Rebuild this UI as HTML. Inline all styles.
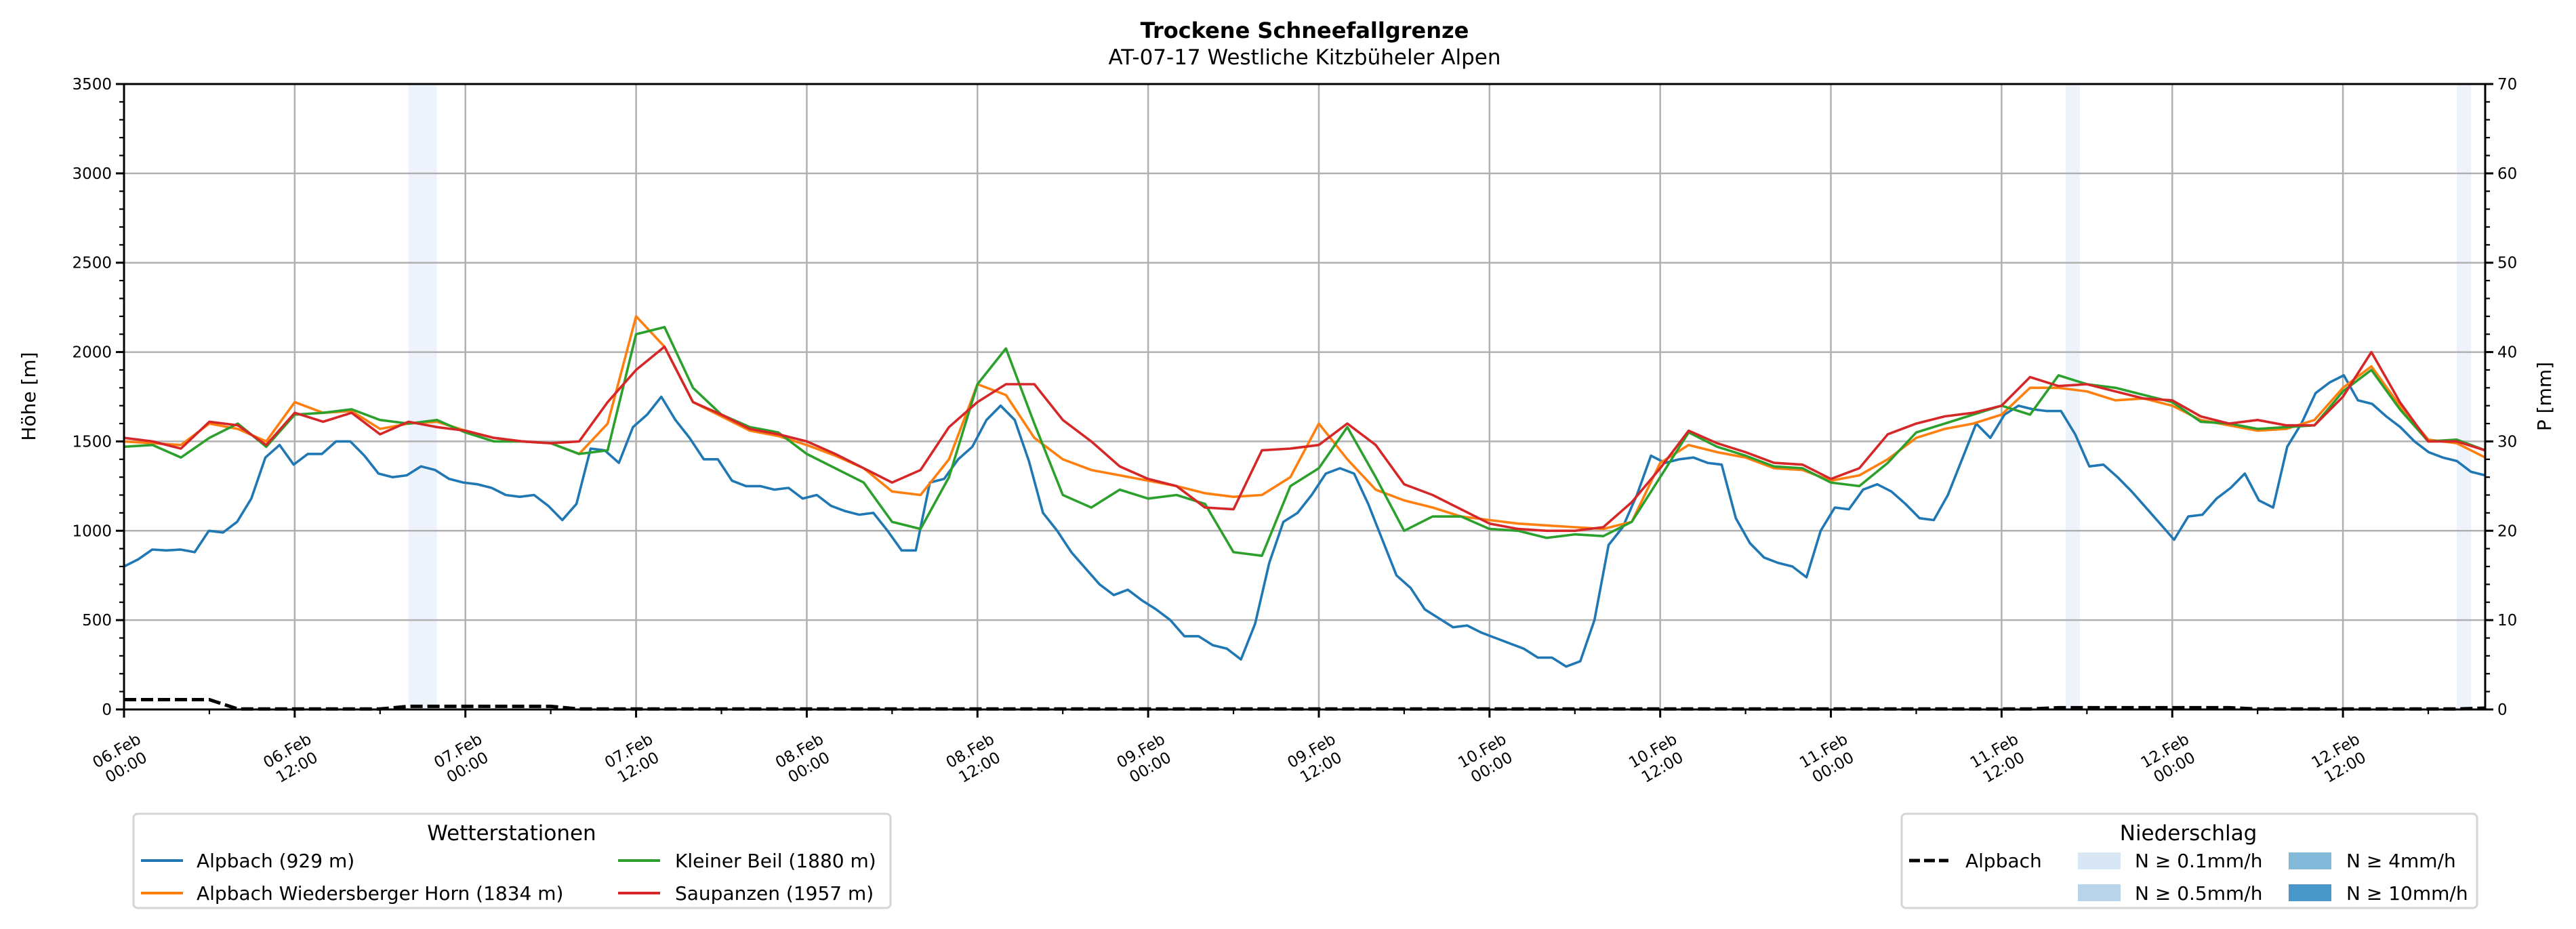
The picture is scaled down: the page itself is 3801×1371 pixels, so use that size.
<!DOCTYPE html>
<html><head><meta charset="utf-8"><style>
html,body{margin:0;padding:0;background:#fff}
svg{display:block;font-family:"DejaVu Sans","Liberation Sans",sans-serif}
</style></head><body>
<svg id="chart" width="3801" height="1371" viewBox="0 0 3801 1371" xmlns="http://www.w3.org/2000/svg">
<text x="1925" y="56" font-size="32" font-weight="bold" text-anchor="middle">Trockene Schneefallgrenze</text>
<text x="1925" y="95" font-size="31" text-anchor="middle">AT-07-17 Westliche Kitzbüheler Alpen</text>
<g id="bands"></g>
<g id="grid"></g>
<g id="series"></g>
<g id="axes"></g>
<text transform="translate(52,585) rotate(-90)" font-size="28" text-anchor="middle">Höhe [m]</text>
<text transform="translate(3764,585) rotate(-90)" font-size="28" text-anchor="middle">P [mm]</text>
<g>
<rect x="197" y="1201" width="1117" height="139" rx="6" fill="#fff" stroke="#d5d5d5" stroke-width="3"/>
<text x="755" y="1240" font-size="31" text-anchor="middle">Wetterstationen</text>
<g><line x1="208" y1="1270" x2="270" y2="1270" stroke="#1f77b4" stroke-width="4"/><text x="290" y="1280" font-size="28">Alpbach (929 m)</text></g>
<g><line x1="208" y1="1318" x2="270" y2="1318" stroke="#ff7f0e" stroke-width="4"/><text x="290" y="1328" font-size="28">Alpbach Wiedersberger Horn (1834 m)</text></g>
<g><line x1="912" y1="1270" x2="974" y2="1270" stroke="#2ca02c" stroke-width="4"/><text x="996" y="1280" font-size="28">Kleiner Beil (1880 m)</text></g>
<g><line x1="912" y1="1318" x2="974" y2="1318" stroke="#d62728" stroke-width="4"/><text x="996" y="1328" font-size="28">Saupanzen (1957 m)</text></g>
</g>
<g>
<rect x="2806" y="1201" width="849" height="139" rx="6" fill="#fff" stroke="#d5d5d5" stroke-width="3"/>
<text x="3229" y="1240" font-size="31" text-anchor="middle">Niederschlag</text>
<g><line x1="2817" y1="1270" x2="2875" y2="1270" stroke="#000" stroke-width="5" stroke-dasharray="16,6"/><text x="2900" y="1280" font-size="28">Alpbach</text></g>
<g><rect x="3066" y="1258" width="63" height="25" fill="#d9e7f5"/><text x="3150" y="1280" font-size="28">N ≥ 0.1mm/h</text></g>
<g><rect x="3066" y="1305" width="63" height="25" fill="#b7d4ea"/><text x="3150" y="1328" font-size="28">N ≥ 0.5mm/h</text></g>
<g><rect x="3377" y="1258" width="63" height="25" fill="#83b9d9"/><text x="3462" y="1280" font-size="28">N ≥ 4mm/h</text></g>
<g><rect x="3377" y="1305" width="63" height="25" fill="#4a98c9"/><text x="3462" y="1328" font-size="28">N ≥ 10mm/h</text></g>
</g>
</svg>
<script>
const alpbach=[800,840,895,890,895,880,1000,990,1050,1180,1410,1480,1370,1430,1430,1500,1500,1420,1320,1300,1310,1360,1340,1290,1270,1260,1240,1200,1190,1200,1140,1060,1150,1460,1450,1380,1580,1650,1750,1620,1520,1400,1400,1280,1250,1250,1230,1240,1180,1200,1140,1110,1090,1100,1000,890,890,1270,1290,1400,1470,1620,1700,1620,1390,1100,1000,880,790,700,640,670,610,560,500,410,410,360,340,280,480,820,1050,1100,1200,1320,1350,1320,1150,950,750,680,560,510,460,470,430,400,370,340,290,290,240,270,500,920,1020,1200,1420,1380,1400,1410,1380,1370,1070,930,850,820,800,740,1000,1130,1120,1230,1260,1220,1150,1070,1060,1200,1400,1600,1520,1650,1700,1680,1670,1670,1540,1360,1370,1300,1220,1130,1040,950,1080,1090,1180,1240,1320,1170,1130,1470,1600,1770,1830,1870,1730,1710,1640,1580,1500,1440,1410,1390,1330,1310];
const wiedersberger=[1500,1490,1480,1600,1570,1500,1720,1660,1670,1570,1600,1610,1560,1520,1500,1490,1430,1600,2200,2030,1720,1640,1560,1530,1480,1420,1350,1220,1200,1400,1820,1760,1520,1400,1340,1310,1280,1250,1210,1190,1200,1300,1600,1400,1230,1170,1130,1080,1060,1040,1030,1020,1010,1050,1380,1480,1440,1410,1350,1340,1280,1310,1400,1520,1570,1600,1650,1800,1800,1780,1730,1740,1700,1620,1590,1560,1570,1620,1800,1920,1700,1510,1490,1410];
const kleinerBeil=[1470,1480,1410,1520,1600,1470,1650,1660,1680,1620,1600,1620,1550,1500,1500,1490,1430,1450,2100,2140,1800,1650,1580,1550,1430,1350,1270,1050,1010,1300,1820,2020,1600,1200,1130,1230,1180,1200,1150,880,860,1250,1350,1580,1300,1000,1080,1080,1010,1000,960,980,970,1050,1300,1550,1470,1420,1360,1350,1270,1250,1380,1550,1600,1650,1700,1650,1870,1820,1800,1760,1720,1610,1600,1570,1580,1590,1780,1900,1680,1500,1510,1450];
const saupanzen=[1520,1500,1460,1610,1590,1480,1660,1610,1660,1540,1610,1580,1560,1520,1500,1490,1500,1720,1900,2030,1720,1650,1570,1540,1500,1430,1350,1270,1340,1580,1720,1820,1820,1620,1500,1360,1290,1250,1130,1120,1450,1460,1480,1600,1480,1260,1200,1120,1040,1010,1000,1000,1020,1160,1350,1560,1490,1440,1380,1370,1290,1350,1540,1600,1640,1660,1700,1860,1810,1820,1780,1740,1730,1640,1600,1620,1590,1590,1750,2000,1720,1500,1500,1450];
const precipAlpbach=[1.1,1.1,1.1,1.1,0.05,0.05,0.05,0.05,0.05,0.05,0.35,0.35,0.35,0.35,0.35,0.35,0.05,0.05,0.05,0.05,0.05,0.05,0.05,0.05,0.05,0.05,0.05,0.05,0.05,0.05,0.05,0.05,0.05,0.05,0.05,0.05,0.05,0.05,0.05,0.05,0.05,0.05,0.05,0.05,0.05,0.05,0.05,0.05,0.05,0.05,0.05,0.05,0.05,0.05,0.05,0.05,0.05,0.05,0.05,0.05,0.05,0.05,0.05,0.05,0.05,0.05,0.05,0.05,0.2,0.2,0.2,0.2,0.2,0.2,0.2,0.05,0.05,0.05,0.05,0.05,0.05,0.05,0.05,0.15];
const bandStartHours=[20,136.5,164];
const bandEndHours=[22,137.5,165];
const xTickLabels=["06.Feb|00:00","06.Feb|12:00","07.Feb|00:00","07.Feb|12:00","08.Feb|00:00","08.Feb|12:00","09.Feb|00:00","09.Feb|12:00","10.Feb|00:00","10.Feb|12:00","11.Feb|00:00","11.Feb|12:00","12.Feb|00:00","12.Feb|12:00"];
const yTicks=[0,500,1000,1500,2000,2500,3000,3500];
const y2Ticks=[0,10,20,30,40,50,60,70];

const L=183,R=3667,T=124,B=1047,HMAX=166;
const NS='http://www.w3.org/2000/svg';
const X=h=>L+(R-L)*h/HMAX;
const Y=v=>B-(B-T)*v/3500;
const Y2=v=>B-(B-T)*v/70;
function mk(tag,attrs,parent){const e=document.createElementNS(NS,tag);for(const k in attrs)e.setAttribute(k,attrs[k]);parent.appendChild(e);return e;}
const gB=document.getElementById('bands'),gG=document.getElementById('grid'),gS=document.getElementById('series'),gA=document.getElementById('axes');
bandStartHours.forEach((s,i)=>{const r=mk('rect',{x:X(s),y:T,width:X(bandEndHours[i])-X(s),height:B-T,fill:'#eef3fb'},gB);

});
yTicks.forEach(v=>{const l=mk('line',{x1:L,x2:R,y1:Y(v),y2:Y(v),stroke:'#b0b0b0','stroke-width':2.5},gG);

});
xTickLabels.forEach((s,i)=>{const x=X(i*12);const l=mk('line',{x1:x,x2:x,y1:T,y2:B,stroke:'#b0b0b0','stroke-width':2.5},gG);

});
function line(arr,color,name,dash,scale){const step=HMAX/(arr.length-1);const pts=arr.map((v,i)=>X(i*step).toFixed(1)+','+(scale?Y2(v):Y(v)).toFixed(1)).join(' ');
const p=mk('polyline',{points:pts,fill:'none',stroke:color,'stroke-width':scale?5:3.6,'stroke-linejoin':'round'},gS);
if(dash)p.setAttribute('stroke-dasharray',dash);

}
line(alpbach,'#1f77b4','line-alpbach');
line(wiedersberger,'#ff7f0e','line-wiedersberger-horn');
line(kleinerBeil,'#2ca02c','line-kleiner-beil');
line(saupanzen,'#d62728','line-saupanzen');
line(precipAlpbach,'#000','line-precip-alpbach','18,7',true);
mk('rect',{x:L,y:T,width:R-L,height:B-T,fill:'none',stroke:'#000','stroke-width':3},gA);
for(let v=0;v<=3500;v+=100){const major=v%500===0;mk('line',{x1:L,x2:L-(major?12:7),y1:Y(v),y2:Y(v),stroke:'#000','stroke-width':major?3:2.2},gA);}
yTicks.forEach(v=>{const t=mk('text',{x:L-18,y:Y(v)+8,'font-size':23,'text-anchor':'end'},gA);t.textContent=v;

});
for(let v=0;v<=70;v+=2){const major=v%10===0;mk('line',{x1:R,x2:R+(major?12:7),y1:Y2(v),y2:Y2(v),stroke:'#000','stroke-width':major?3:2.2},gA);}
y2Ticks.forEach(v=>{const t=mk('text',{x:R+18,y:Y2(v)+8,'font-size':23},gA);t.textContent=v;

});
for(let h=0;h<=HMAX;h+=6){const major=h%12===0;mk('line',{x1:X(h),x2:X(h),y1:B,y2:B+(major?12:7),stroke:'#000','stroke-width':major?3:2.2},gA);}
xTickLabels.forEach((s,i)=>{const [a,b]=s.split('|');const g=mk('g',{transform:`translate(${X(i*12)-4},1120) rotate(-30)`},gA);


const t1=mk('text',{x:0,y:-6,'font-size':23,'text-anchor':'middle'},g);t1.textContent=a;
const t2=mk('text',{x:0,y:22,'font-size':23,'text-anchor':'middle'},g);t2.textContent=b;});
</script>
</body></html>
